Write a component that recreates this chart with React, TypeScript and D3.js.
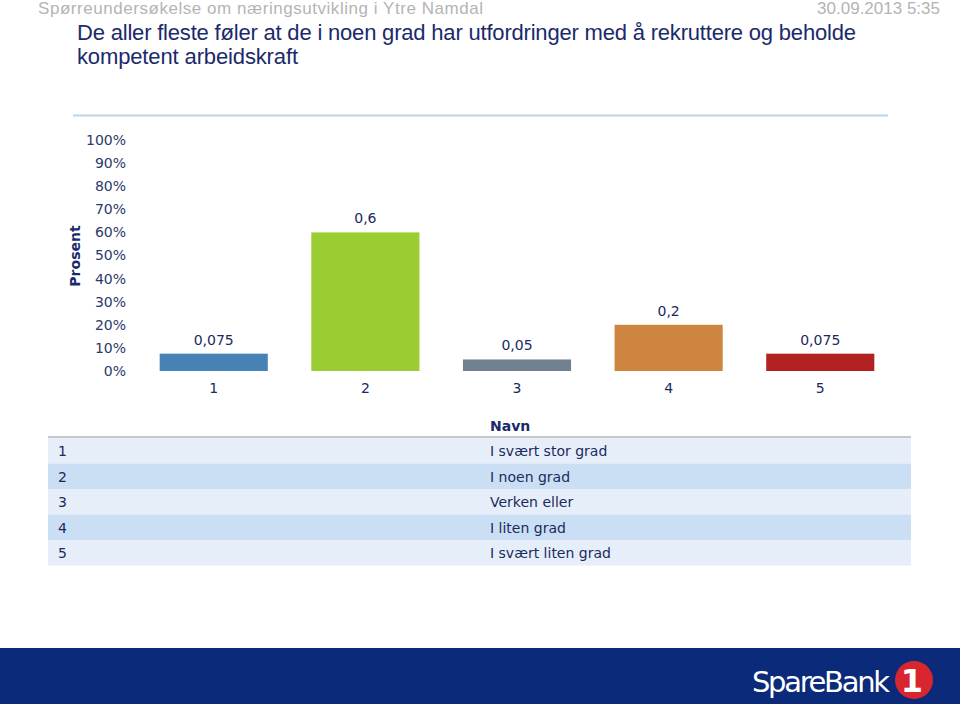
import { useEffect, useRef } from "react";
import * as d3 from "d3";

const categories = ["1", "2", "3", "4", "5"];
const values = [0.075, 0.6, 0.05, 0.2, 0.075];
const valueLabels = ["0,075", "0,6", "0,05", "0,2", "0,075"];
const barColors = ["#4682b4", "#9acd32", "#708090", "#cd853f", "#b22222"];
const yTicks = [0, 0.1, 0.2, 0.3, 0.4, 0.5, 0.6, 0.7, 0.8, 0.9, 1];
const names = ["I svært stor grad", "I noen grad", "Verken eller", "I liten grad", "I svært liten grad"];

const navy = "#1b2a5e";
const font = "'DejaVu Sans', Verdana, sans-serif";
const narrow = "'Liberation Sans Narrow', 'Arial Narrow', 'Liberation Sans', sans-serif";

function App() {
  const ref = useRef<SVGSVGElement>(null);

  useEffect(() => {
    const svg = d3.select(ref.current);
    svg.selectAll("*").remove();

    // header
    svg.append("text").attr("x", 38).attr("y", 14).attr("font-family", narrow).attr("font-size", 17)
      .attr("fill", "#b4b4b4").attr("textLength", 445)
      .text("Spørreundersøkelse om næringsutvikling i Ytre Namdal");
    svg.append("text").attr("x", 940).attr("y", 14).attr("text-anchor", "end").attr("font-family", narrow)
      .attr("font-size", 17).attr("fill", "#b4b4b4").text("30.09.2013 5:35");

    const title = svg.append("text").attr("font-family", narrow).attr("font-size", 22).attr("fill", "#1a2a6c");
    title.append("tspan").attr("x", 77).attr("y", 40).attr("textLength", 779)
      .text("De aller fleste føler at de i noen grad har utfordringer med å rekruttere og beholde");
    title.append("tspan").attr("x", 77).attr("y", 64).attr("textLength", 221).text("kompetent arbeidskraft");

    svg.append("line").attr("x1", 73).attr("x2", 888).attr("y1", 115.5).attr("y2", 115.5)
      .attr("stroke", "#bcd6ea").attr("stroke-width", 2);

    // chart
    const x = d3.scaleBand().domain(categories).range([138, 896]).paddingInner(0.287).paddingOuter(0.143);
    const y = d3.scaleLinear().domain([0, 1]).range([371, 140]);

    const yAxis = svg.append("g").attr("transform", "translate(126,0)")
      .call(d3.axisLeft(y).tickValues(yTicks).tickSize(0).tickPadding(0).tickFormat(d3.format(".0%")));
    yAxis.select(".domain").remove();
    yAxis.selectAll("text").attr("font-family", font).attr("font-size", 14).attr("fill", "#2a3a6a");

    svg.append("text").attr("transform", "translate(80,256) rotate(-90)").attr("text-anchor", "middle")
      .attr("font-family", font).attr("font-size", 14).attr("font-weight", "bold").attr("fill", "#1a2a6c")
      .text("Prosent");

    svg.selectAll(".bar").data(values).enter().append("rect").attr("class", "bar")
      .attr("x", (_, i) => x(categories[i])!).attr("width", x.bandwidth())
      .attr("y", d => y(d)).attr("height", d => y(0) - y(d))
      .attr("fill", (_, i) => barColors[i]);

    svg.selectAll(".val").data(values).enter().append("text").attr("class", "val")
      .attr("x", (_, i) => x(categories[i])! + x.bandwidth() / 2).attr("y", d => y(d) - 9)
      .attr("text-anchor", "middle").attr("font-family", font).attr("font-size", 14).attr("fill", navy)
      .text((_, i) => valueLabels[i]);

    const xAxis = svg.append("g").attr("transform", "translate(0,371)")
      .call(d3.axisBottom(x).tickSize(0).tickPadding(12));
    xAxis.select(".domain").remove();
    xAxis.selectAll("text").attr("font-family", font).attr("font-size", 14).attr("fill", navy);

    // table
    const rowH = 25.5;
    svg.append("text").attr("x", 490).attr("y", 431).attr("font-family", font).attr("font-size", 14)
      .attr("font-weight", "bold").attr("fill", "#1a2a6c").text("Navn");
    svg.append("line").attr("x1", 48).attr("x2", 911).attr("y1", 437).attr("y2", 437)
      .attr("stroke", "#c8c8c8").attr("stroke-width", 2);
    const rows = svg.selectAll(".row").data(categories).enter().append("g").attr("class", "row")
      .attr("transform", (_, i) => `translate(0,${438 + i * rowH})`);
    rows.append("rect").attr("x", 48).attr("width", 863).attr("height", rowH)
      .attr("fill", (_, i) => (i % 2 === 0 ? "#e6eef9" : "#cbdff4"));
    rows.append("text").attr("x", 58).attr("y", 18).attr("font-family", font).attr("font-size", 14)
      .attr("fill", navy).text(d => d);
    rows.append("text").attr("x", 490).attr("y", 18).attr("font-family", font).attr("font-size", 14)
      .attr("fill", navy).text((_, i) => names[i]);

    // footer
    svg.append("rect").attr("x", 0).attr("y", 648).attr("width", 960).attr("height", 56).attr("fill", "#0c2a7a");
    svg.append("text").attr("x", 752).attr("y", 692).attr("font-family", "'DejaVu Sans', sans-serif")
      .attr("font-size", 29).attr("fill", "#fff").attr("textLength", 138).text("SpareBank");
    svg.append("circle").attr("cx", 914).attr("cy", 680).attr("r", 19).attr("fill", "#d7262e");
    svg.append("text").attr("x", 912).attr("y", 692).attr("text-anchor", "middle")
      .attr("font-family", "'DejaVu Sans', sans-serif").attr("font-weight", "bold").attr("font-size", 32)
      .attr("fill", "#fff").text("1");
  }, []);

  return (
    <div style={{ position: "absolute", left: 0, top: 0 }}>
      <svg ref={ref} width={960} height={704} style={{ display: "block", background: "#fff" }} />
    </div>
  );
}

export default App;
